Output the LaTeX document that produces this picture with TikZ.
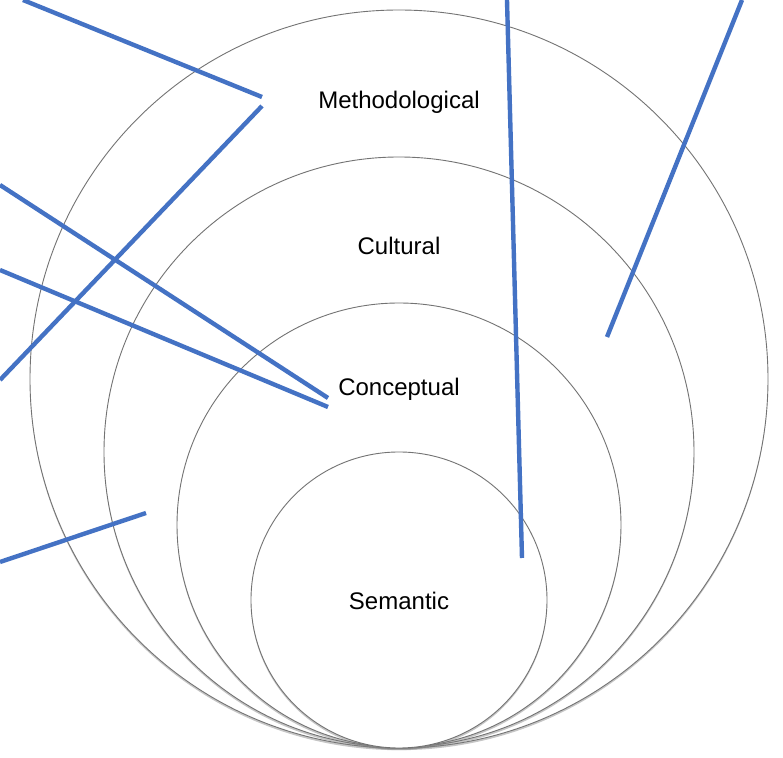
\documentclass[tikz,border=0pt]{standalone}
\usepackage{fontspec}
\setmainfont{Liberation Sans}
\usetikzlibrary{shadows,positioning}

\definecolor{leaderblue}{RGB}{68,114,196}

\tikzset{
  ring/.style={circle,draw=black!55,fill=white,line width=0.45pt,inner sep=0pt,
    drop shadow={shadow xshift=0pt,shadow yshift=-1.1pt,opacity=0.45}},
  layer/.style={font=\fontsize{12}{14}\selectfont},
  leader/.style={draw=leaderblue,line width=2.2pt}
}

\begin{document}
\begin{tikzpicture}[x=0.5pt,y=-0.5pt]
\clip (0,0) rectangle (783,758);

% nested layers, outer first
\node[ring,minimum size=369pt](Methodological) at (399,379){};
\node[ring,minimum size=295pt](Cultural) at (399,452){};
\node[ring,minimum size=222pt](Conceptual) at (399,525){};
\node[ring,minimum size=148pt](Semantic) at (399,600){};

\node[layer](tMeth) at (399,102){Methodological};
\node[layer](tCult) at (399,246){Cultural};
\node[layer](tConc) at (399,389){Conceptual};
\node[layer](tSem) at (399,601){Semantic};

% leader lines
\coordinate (a1) at (23,0);    \coordinate (b1) at (262,97);
\coordinate (a2) at (0,380);   \coordinate (b2) at (262,106);
\coordinate (a3) at (0,185);   \coordinate (b3) at (328,398);
\coordinate (a4) at (0,270);   \coordinate (b4) at (328,407);
\coordinate (a5) at (0,562);   \coordinate (b5) at (146,513);
\coordinate (a6) at (507,0);   \coordinate (b6) at (522,558);
\coordinate (a7) at (742,0);   \coordinate (b7) at (607,337);

\foreach \n in {1,...,7}
  \draw[leader] (a\n) -- (b\n);
\end{tikzpicture}
\end{document}
